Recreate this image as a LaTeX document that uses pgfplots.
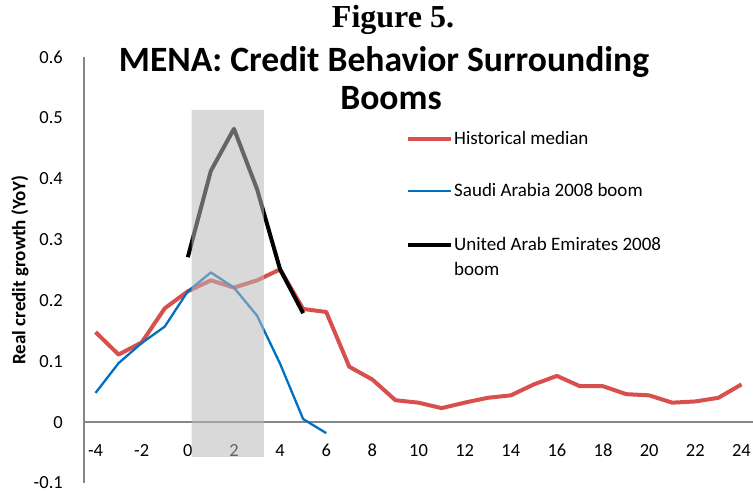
\documentclass[border=0pt]{standalone}
\usepackage{fontspec}
\setmainfont{Carlito}
\newfontfamily\timesfont{Liberation Serif}
\usepackage{pgfplots}
\pgfplotsset{compat=1.18}
\definecolor{histred}{RGB}{215,80,78}
\definecolor{saudiblue}{RGB}{0,112,192}
\definecolor{axisgray}{RGB}{134,134,134}
\definecolor{shadegray}{RGB}{185,185,185}
\begin{document}
\begin{tikzpicture}
\begin{axis}[
  set layers,
  at={(84bp,9bp)}, anchor=south west,
  scale only axis, width=669bp, height=426bp,
  xmin=-4.5, xmax=24.5, ymin=-0.1, ymax=0.6,
  axis x line*=middle, axis y line*=left,
  axis line style={axisgray, line width=1.3bp},
  xtick={-4,-2,0,2,4,6,8,10,12,14,16,18,20,22,24},
  xticklabels={-4,-2,0,2,4,6,8,10,12,14,16,18,20,22,24},
  ytick={-0.1,0,0.1,0.2,0.3,0.4,0.5,0.6},
  yticklabels={-0.1,0,0.1,0.2,0.3,0.4,0.5,0.6},
  major tick length=0pt,
  tick label style={font=\fontsize{18.5bp}{22bp}\selectfont, text=black, inner sep=0pt},
  xticklabel style={anchor=north, yshift=-22bp},
  yticklabel style={anchor=east, xshift=-21bp},
  ylabel={Real credit growth (YoY)},
  ylabel style={at={(axis description cs:-0.0957,0.5)}, anchor=center,
    font=\fontsize{19bp}{22bp}\selectfont\bfseries, inner sep=0pt},
  line join=round,
]
% Historical median
\addplot[histred, line width=4bp] coordinates {
 (-4,0.148) (-3,0.111) (-2,0.131) (-1,0.187) (0,0.215) (1,0.233) (2,0.221)
 (3,0.233) (4,0.251) (5,0.186) (6,0.181) (7,0.091) (8,0.070) (9,0.036)
 (10,0.032) (11,0.023) (12,0.032) (13,0.040) (14,0.044) (15,0.062) (16,0.076)
 (17,0.059) (18,0.059) (19,0.046) (20,0.044) (21,0.032) (22,0.034) (23,0.040) (24,0.062)
};
% Saudi Arabia 2008 boom
\addplot[saudiblue, line width=2.3bp] coordinates {
 (-4,0.048) (-3,0.097) (-2,0.130) (-1,0.157) (0,0.215) (1,0.246) (2,0.221)
 (3,0.175) (4,0.096) (5,0.005) (6,-0.018)
};
% United Arab Emirates 2008 boom
\addplot[black, line width=4bp] coordinates {
 (0,0.271) (1,0.413) (2,0.482) (3,0.383) (4,0.251) (5,0.179)
};
% boom period shading
\addplot[draw=none, fill=shadegray, fill opacity=0.55, on layer=axis foreground, forget plot]
 coordinates {(0.17,-0.057) (3.3,-0.057) (3.3,0.513) (0.17,0.513) (0.17,-0.057)};
\end{axis}
\begin{scope}[x=1bp,y=1bp]
% titles
\node[anchor=base, inner sep=0pt, font=\timesfont\fontsize{32bp}{36bp}\selectfont\bfseries] at (393,464) {Figure 5.};
\node[anchor=base, inner sep=0pt, font=\fontsize{35.6bp}{38bp}\selectfont\bfseries] at (384,420) {MENA: Credit Behavior Surrounding};
\node[anchor=base, inner sep=0pt, font=\fontsize{35.6bp}{38bp}\selectfont\bfseries] at (391,382) {Booms};
% legend
\draw[histred, line width=4bp] (408,353) -- (451,353);
\node[anchor=base west, inner sep=0pt, font=\fontsize{19bp}{22bp}\selectfont] at (454,347) {Historical median};
\draw[saudiblue, line width=2.3bp] (408,301) -- (451,301);
\node[anchor=base west, inner sep=0pt, font=\fontsize{19bp}{22bp}\selectfont] at (454,295) {Saudi Arabia 2008 boom};
\draw[black, line width=4bp] (408,247) -- (451,247);
\node[anchor=base west, inner sep=0pt, font=\fontsize{19bp}{22bp}\selectfont] at (454,241) {United Arab Emirates 2008};
\node[anchor=base west, inner sep=0pt, font=\fontsize{19bp}{22bp}\selectfont] at (454,216) {boom};
\pgfresetboundingbox
\useasboundingbox (0,0) rectangle (753,492);
\end{scope}
\end{tikzpicture}
\end{document}
